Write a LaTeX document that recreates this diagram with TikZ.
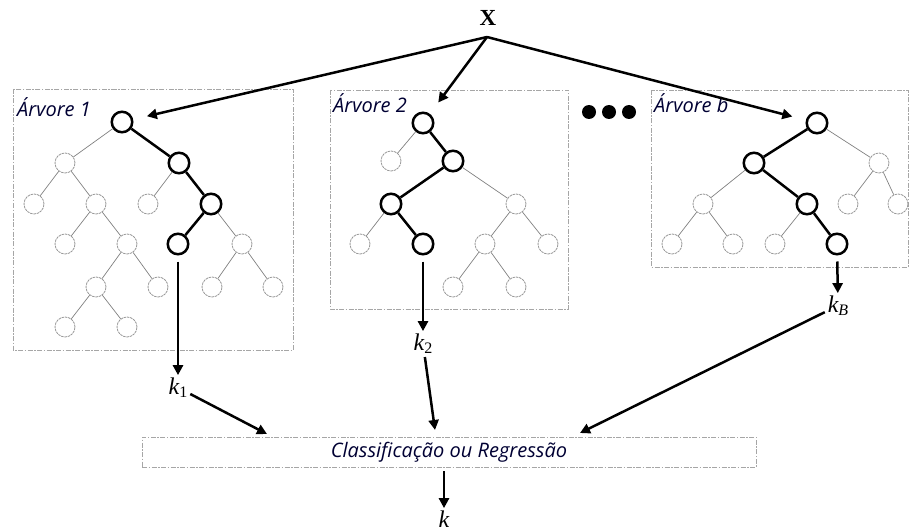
\documentclass[tikz,border=0pt]{standalone}
\usepackage{fontspec}
\setmainfont{Liberation Serif}
\newfontfamily\lblfont{Open Sans}
\usetikzlibrary{arrows.meta}
\tikzset{
  gnode/.style={circle, draw=black!40, line width=0.8pt, dash pattern=on 2.5pt off 0.8pt, minimum size=20pt, inner sep=0pt},
  bnode/.style={circle, draw=black, line width=2.5pt, minimum size=20.5pt, inner sep=0pt},
  gedge/.style={draw=black!50, line width=0.7pt},
  bedge/.style={draw=black, line width=2.5pt},
  arr/.style={draw=black, line width=2.5pt, -{Triangle[length=10pt,width=10pt]}},
  treebox/.style={draw=black!35, line width=0.8pt, dash pattern=on 5pt off 1.5pt on 1.5pt off 1.5pt},
  lbl/.style={font=\lblfont\itshape\fontsize{20}{22}\selectfont, text=black!80!blue, inner sep=0pt},
  klbl/.style={font=\fontsize{24}{26}\selectfont\itshape, inner sep=1pt, anchor=base},
}
\newcommand{\ksub}[1]{\raisebox{-0.35ex}{\fontsize{16}{17}\selectfont#1}}
\begin{document}
\begin{tikzpicture}[x=1pt, y=-1pt]
\useasboundingbox (0,0) rectangle (911,532);

% frames around the three trees
\draw[treebox] (13,89) rectangle (293,350);
\draw[treebox] (330,90) rectangle (568,309);
\draw[treebox] (651,90) rectangle (908,267);

\node[lbl, anchor=base west] (l1) at (17,117) {Árvore 1};
\node[lbl, anchor=base west] (l2) at (333,113) {Árvore 2};
\node[lbl, anchor=base west] (lb) at (654,113) {Árvore b};

% input
\node[font=\bfseries\fontsize{23}{25}\selectfont, inner sep=0pt, anchor=base] (X) at (488,26) {X};
\coordinate (xs) at (487,37);

% tree 1
\node[bnode] (a0) at (122,122) {};
\node[gnode] (a1) at (65,163) {};
\node[bnode] (a2) at (179,163) {};
\node[gnode] (a3) at (34,204) {};
\node[gnode] (a4) at (96,204) {};
\node[gnode] (a5) at (148,204) {};
\node[bnode] (a6) at (211,204) {};
\node[gnode] (a7) at (65,244) {};
\node[gnode] (a8) at (127,244) {};
\node[bnode] (a9) at (178,244) {};
\node[gnode] (a10) at (242,244) {};
\node[gnode] (a11) at (96,287) {};
\node[gnode] (a12) at (158,287) {};
\node[gnode] (a13) at (212,287) {};
\node[gnode] (a14) at (273,287) {};
\node[gnode] (a15) at (65,327) {};
\node[gnode] (a16) at (127,327) {};
\draw[gedge] (a0)--(a1) (a1)--(a3) (a1)--(a4) (a2)--(a5) (a4)--(a7) (a4)--(a8)
  (a6)--(a10) (a8)--(a11) (a8)--(a12) (a10)--(a13) (a10)--(a14) (a11)--(a15) (a11)--(a16);
\draw[bedge] (a0)--(a2) (a2)--(a6) (a6)--(a9);

% tree 2
\node[bnode] (b0) at (423,123) {};
\node[gnode] (b1) at (391,161) {};
\node[bnode] (b2) at (453,161) {};
\node[bnode] (b3) at (391,204) {};
\node[gnode] (b4) at (516,204) {};
\node[gnode] (b5) at (360,244) {};
\node[bnode] (b6) at (423,244) {};
\node[gnode] (b7) at (485,244) {};
\node[gnode] (b8) at (548,244) {};
\node[gnode] (b9) at (453,287) {};
\node[gnode] (b10) at (516,287) {};
\draw[gedge] (b0)--(b1) (b2)--(b4) (b3)--(b5) (b4)--(b7) (b4)--(b8) (b7)--(b9) (b7)--(b10);
\draw[bedge] (b0)--(b2) (b2)--(b3) (b3)--(b6);

% tree b
\node[bnode] (c0) at (817,123) {};
\node[bnode] (c1) at (754,163) {};
\node[gnode] (c2) at (879,163) {};
\node[gnode] (c3) at (703,204) {};
\node[bnode] (c4) at (807,204) {};
\node[gnode] (c5) at (848,204) {};
\node[gnode] (c6) at (898,204) {};
\node[gnode] (c7) at (672,244) {};
\node[gnode] (c8) at (733,244) {};
\node[gnode] (c9) at (775,244) {};
\node[bnode] (c10) at (837,244) {};
\draw[gedge] (c0)--(c2) (c1)--(c3) (c2)--(c5) (c2)--(c6) (c3)--(c7) (c3)--(c8) (c4)--(c9);
\draw[bedge] (c0)--(c1) (c1)--(c4) (c4)--(c10);

% ellipsis between the trees
\fill (589,112) circle (7pt) (609,112) circle (7pt) (629,112) circle (7pt);

% outputs of the trees
\node[klbl] (k1) at (178,394) {k\ksub{\upshape 1}};
\node[klbl] (k2) at (423,350) {k\ksub{\upshape 2}};
\node[klbl] (kB) at (838,312) {k\ksub{B}};

% aggregation
\node[draw=black!35, line width=0.8pt, dash pattern=on 5pt off 1.5pt on 1.5pt off 1.5pt,
      minimum width=614pt, minimum height=30pt, inner sep=0pt,
      font=\lblfont\itshape\fontsize{20}{22}\selectfont, text=black!80!blue] (cls) at (449,452) {Classificação ou Regressão};
\node[klbl, inner sep=0pt] (k) at (444,527) {k};
\coordinate (in1) at (267,434);
\coordinate (in2) at (435,430);
\coordinate (inB) at (580,433);

% arrows
\draw[arr, shorten >=14pt] (xs) -- (a0);
\draw[arr, shorten >=14pt] (xs) -- (b0);
\draw[arr, shorten >=14pt] (xs) -- (c0);
\draw[arr, shorten <=6pt, shorten >=1pt] (a9) -- (k1);
\draw[arr, shorten <=6pt, shorten >=1pt] (b6) -- (k2);
\draw[arr, shorten <=6pt, shorten >=1pt] (c10) -- (kB);
\draw[arr, shorten <=2pt] (k1) -- (in1);
\draw[arr, shorten <=2pt] (k2) -- (in2);
\draw[arr, shorten <=2pt] (kB) -- (inB);
\draw[arr, shorten <=4pt, shorten >=2pt] (cls.south -| k) -- (k);
\end{tikzpicture}
\end{document}
